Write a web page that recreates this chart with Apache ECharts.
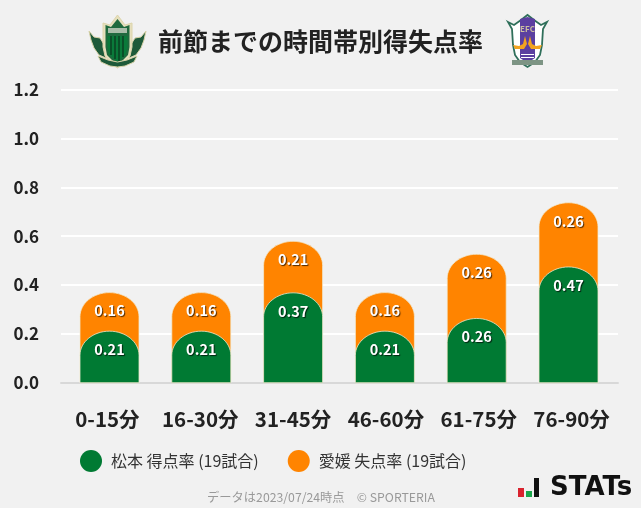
<!DOCTYPE html>
<html>
<head>
<meta charset="utf-8">
<style>
  html, body { margin: 0; padding: 0; background: #f1f1f1; }
  #chart { width: 641px; height: 508px; }
</style>
<script src="https://cdn.jsdelivr.net/npm/echarts@6/dist/echarts.min.js"></script>
</head>
<body>
<div id="chart"></div>
<script>
const categories = ['0-15分', '16-30分', '31-45分', '46-60分', '61-75分', '76-90分'];
// labels round these to two places
const scored = [0.211, 0.211, 0.368, 0.211, 0.263, 0.474];
const conceded = [0.158, 0.158, 0.211, 0.158, 0.263, 0.263];
const yTicks = { min: 0, max: 1.2, interval: 0.2 };
const scoredName = '松本 得点率 (19試合)';
const concededName = '愛媛 失点率 (19試合)';

const GREEN = '#007a33';
const ORANGE = '#ff8400';
const FONT = '"Noto Sans CJK JP", "Noto Sans", sans-serif';
const BAR_W = 59;
const CAP_H = 24;

// bars have an elliptical cap, borderRadius can only do circular ones
function capBar(params, api) {
  const i = api.value(0);
  const top = api.coord([i, api.value(1)]);
  const base = api.coord([i, 0]);
  const x0 = top[0] - BAR_W / 2;
  const x1 = top[0] + BAR_W / 2;
  const path = 'M' + x0 + ' ' + base[1] +
    'L' + x0 + ' ' + (top[1] + CAP_H) +
    'C' + x0 + ' ' + (top[1] + CAP_H * 0.45) + ' ' + (top[0] - BAR_W * 0.275) + ' ' + top[1] + ' ' + top[0] + ' ' + top[1] +
    'C' + (top[0] + BAR_W * 0.275) + ' ' + top[1] + ' ' + x1 + ' ' + (top[1] + CAP_H * 0.45) + ' ' + x1 + ' ' + (top[1] + CAP_H) +
    'L' + x1 + ' ' + base[1] + 'Z';
  return {
    type: 'group',
    children: [
      {
        type: 'path',
        shape: { pathData: path, x: x0, y: top[1], width: BAR_W, height: base[1] - top[1], layout: 'cover' },
        style: { fill: api.visual('color'), stroke: 'rgba(240,236,214,0.75)', lineWidth: 1 }
      },
      {
        type: 'text',
        x: top[0],
        y: top[1] + 18.3,
        z2: 10,
        style: {
          text: api.value(2).toFixed(2),
          fill: '#fff',
          font: 'bold 14.5px ' + FONT,
          align: 'center',
          verticalAlign: 'middle',
          textShadowColor: 'rgba(0,0,0,0.7)',
          textShadowBlur: 1,
          textShadowOffsetX: 1,
          textShadowOffsetY: 1
        }
      }
    ]
  };
}

function barSeries(name, color, rows, z) {
  return {
    name: name,
    type: 'custom',
    xAxisIndex: 1,
    yAxisIndex: 1,
    z: z,
    itemStyle: { color: color },
    encode: { x: 0, y: 1 },
    renderItem: capBar,
    data: rows
  };
}

// orange sits behind green and reaches the stacked total, label keeps its own value
const scoredRows = scored.map((v, i) => [i, v, v]);
const concededRows = conceded.map((v, i) => [i, scored[i] + v, v]);

// crests and the STATs mark, hand traced
function poly(points, fill, stroke, lw) {
  return {
    type: 'polygon',
    shape: { points: points },
    style: { fill: fill, stroke: stroke || 'none', lineWidth: lw || 0 },
    silent: true
  };
}
function box(x, y, w, h, fill) {
  return { type: 'rect', shape: { x: x, y: y, width: w, height: h }, style: { fill: fill }, silent: true };
}

const matsumoto = [
  // wings
  poly([[89, 31], [94, 37], [100, 38], [105, 46], [106, 58], [99, 55], [94, 48], [91, 40]], '#1e5a3a', '#d8d2a8', 1),
  poly([[146, 31], [141, 37], [135, 38], [130, 46], [129, 58], [136, 55], [141, 48], [144, 40]], '#1e5a3a', '#d8d2a8', 1),
  // shield
  poly([[103, 23], [110, 25], [117.5, 15], [125, 25], [132, 23], [132, 47], [130, 56], [125, 62], [117.5, 68], [110, 62], [105, 56], [103, 47]], '#e6dfbd', '#ddd5ac', 1),
  poly([[105.5, 25], [111, 27], [117.5, 19], [124, 27], [129.5, 25], [129.5, 47], [128, 55], [123, 60], [117.5, 65], [112, 60], [107, 55], [105.5, 47]], '#1f6a3e'),
  box(108, 28, 19, 5, '#a9bda9'),
  poly([[107.5, 36], [127.5, 36], [127.5, 47], [126, 54], [122, 58], [117.5, 62], [113, 58], [109, 54], [107.5, 47]], '#0a7a3a'),
  box(110, 36, 2, 19, '#0a4f28'),
  box(114, 36, 2, 23, '#0a4f28'),
  box(118, 36, 2, 25, '#0a4f28'),
  box(122, 36, 2, 21, '#0a4f28'),
  // ribbon
  poly([[98, 56], [108, 60], [117.5, 62], [127, 60], [137, 56], [134, 62], [125, 66], [117.5, 67], [110, 66], [101, 62]], '#1e5a3a', '#d8d2a8', 1)
];

const ehime = [
  poly([[508, 22], [514, 25], [521, 20], [527.5, 15], [534, 20], [541, 25], [547, 22], [543, 29], [542, 45], [540, 55], [535, 62], [527.5, 67], [520, 62], [515, 55], [513, 45], [512, 29]], '#ffffff', '#2f6f5a', 1.8),
  poly([[520, 19], [527.5, 17], [535, 19], [535, 58], [527.5, 63], [520, 58]], '#5b3fa0'),
  poly([[513, 45], [519, 46], [523, 44], [525, 36], [527, 44], [524, 49], [515, 49]], '#f2a31f'),
  poly([[542, 45], [536, 46], [532, 44], [530, 36], [528, 44], [531, 49], [540, 49]], '#f2a31f'),
  box(521, 54, 13, 1, '#ffffff'),
  box(521, 57, 13, 1, '#ffffff'),
  box(512, 60, 31, 5, '#7d9484'),
  {
    type: 'text', x: 527.5, y: 29, silent: true,
    style: { text: 'EFC', fill: '#cbbfa0', font: 'bold 8px ' + FONT, align: 'center', verticalAlign: 'middle' }
  }
];

const statsMark = [
  box(518, 488, 6, 9, '#d9232e'),
  box(526, 491, 6, 6, '#1aa64b'),
  box(534, 478, 5, 19, '#111111'),
  {
    type: 'text', x: 550, y: 488, silent: true,
    style: { text: 'STATs', fill: '#111111', font: 'bold 26px "DejaVu Sans", sans-serif', align: 'left', verticalAlign: 'middle' }
  }
];

const chart = echarts.init(document.getElementById('chart'), null, { renderer: 'canvas' });
chart.setOption({
  backgroundColor: '#f1f1f1',
  animation: false,
  title: [
    {
      text: '前節までの時間帯別得失点率',
      left: 315.5,
      top: 24,
      textAlign: 'center',
      textStyle: { fontFamily: FONT, fontSize: 25, fontWeight: 'bold', color: '#222' }
    },
    {
      text: 'データは2023/07/24時点　© SPORTERIA',
      left: 316,
      top: 486,
      textAlign: 'center',
      textStyle: { fontFamily: FONT, fontSize: 12.25, fontWeight: 'normal', color: '#999' }
    }
  ],
  legend: {
    left: 75,
    top: 445,
    icon: 'circle',
    itemWidth: 22,
    itemHeight: 22,
    itemGap: 29,
    selectedMode: false,
    data: [scoredName, concededName],
    textStyle: { fontFamily: FONT, fontSize: 16, color: '#333', padding: [0, 0, 0, 4] }
  },
  grid: [
    { left: 61, width: 557, top: 89.7, height: 293 },
    { left: 63.6, width: 550.8, top: 89.7, height: 293 }
  ],
  xAxis: [
    {
      gridIndex: 0,
      type: 'category',
      data: categories,
      axisTick: { show: false },
      splitLine: { show: false },
      axisLine: { show: true, lineStyle: { color: '#d8d8d8', width: 2 } },
      axisLabel: { interval: 0, margin: 26.5, fontFamily: FONT, fontSize: 20.5, fontWeight: 'bold', color: '#222' }
    },
    // bars sit on a slightly narrower band than the labels
    { gridIndex: 1, type: 'category', data: categories, show: false }
  ],
  yAxis: [
    {
      gridIndex: 0,
      type: 'value',
      min: yTicks.min,
      max: yTicks.max,
      interval: yTicks.interval,
      axisLine: { show: false },
      axisTick: { show: false },
      splitLine: { lineStyle: { color: '#ffffff', width: 2 } },
      axisLabel: {
        margin: 22,
        padding: [0, 0, 2, 0],
        fontFamily: FONT,
        fontSize: 17,
        fontWeight: 'bold',
        color: '#222',
        formatter: v => v.toFixed(1)
      }
    },
    { gridIndex: 1, type: 'value', min: yTicks.min, max: yTicks.max, interval: yTicks.interval, show: false }
  ],
  series: [
    barSeries(concededName, ORANGE, concededRows, 2),
    barSeries(scoredName, GREEN, scoredRows, 3)
  ],
  graphic: { elements: matsumoto.concat(ehime, statsMark) }
});
</script>
</body>
</html>
